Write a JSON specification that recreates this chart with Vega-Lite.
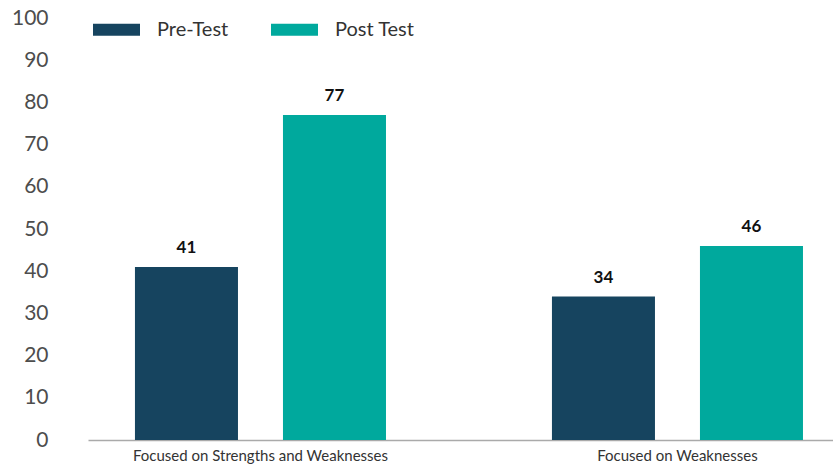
{
  "$schema": "https://vega.github.io/schema/vega-lite/v6.json",
  "autosize": "none",
  "width": 745,
  "height": 422,
  "padding": {"left": 88, "top": 18, "right": 0, "bottom": 26},
  "background": "white",
  "config": {"view": {"stroke": null}, "font": "Lato"},
  "data": {"values": [
    {"group": "Focused on Strengths and Weaknesses", "series": "Pre-Test", "value": 41},
    {"group": "Focused on Strengths and Weaknesses", "series": "Post Test", "value": 77},
    {"group": "Focused on Weaknesses", "series": "Pre-Test", "value": 34},
    {"group": "Focused on Weaknesses", "series": "Post Test", "value": 46}
  ]},
  "encoding": {
    "x": {"field": "group", "type": "nominal", "sort": null,
      "scale": {"paddingInner": 0.398, "paddingOuter": 0.0923, "align": 0.61},
      "axis": {"title": null, "labelAngle": 0, "ticks": false, "domainColor": "#aaaaaa", "domainWidth": 1.5,
        "labelFontSize": 15, "labelColor": "#333333", "labelPadding": 8, "labelFont": "Lato", "labelLimit": 0}},
    "xOffset": {"field": "series", "type": "nominal", "sort": ["Pre-Test", "Post Test"],
      "scale": {"paddingInner": 0.304, "paddingOuter": 0}},
    "y": {"field": "value", "type": "quantitative",
      "scale": {"domain": [0, 100], "nice": false},
      "axis": {"title": null, "values": [0,10,20,30,40,50,60,70,80,90,100], "grid": false, "domain": false, "ticks": false,
        "labelFontSize": 21, "labelColor": "#4d4d4d", "labelPadding": 40, "labelFont": "Lato"}}
  },
  "layer": [
    {"mark": {"type": "bar"},
      "encoding": {
        "color": {"field": "series", "type": "nominal", "sort": ["Pre-Test", "Post Test"],
          "scale": {"domain": ["Pre-Test", "Post Test"], "range": ["#16445f", "#00a99d"]},
          "legend": {"title": null, "orient": "none", "legendX": 5, "legendY": -12, "direction": "horizontal",
            "symbolType": "M-1,-0.255H1V0.255H-1Z", "symbolSize": 2209, "symbolStrokeWidth": 0,
            "labelFontSize": 20, "labelColor": "#333333", "labelOffset": 17, "columnPadding": 42, "padding": 0,
            "labelFont": "Lato"}}
      }},
    {"mark": {"type": "text", "fontWeight": "bold", "fontSize": 17, "dy": -14, "baseline": "alphabetic", "color": "#111111", "font": "Lato"},
      "encoding": {"text": {"field": "value", "type": "quantitative"}}}
  ]
}
